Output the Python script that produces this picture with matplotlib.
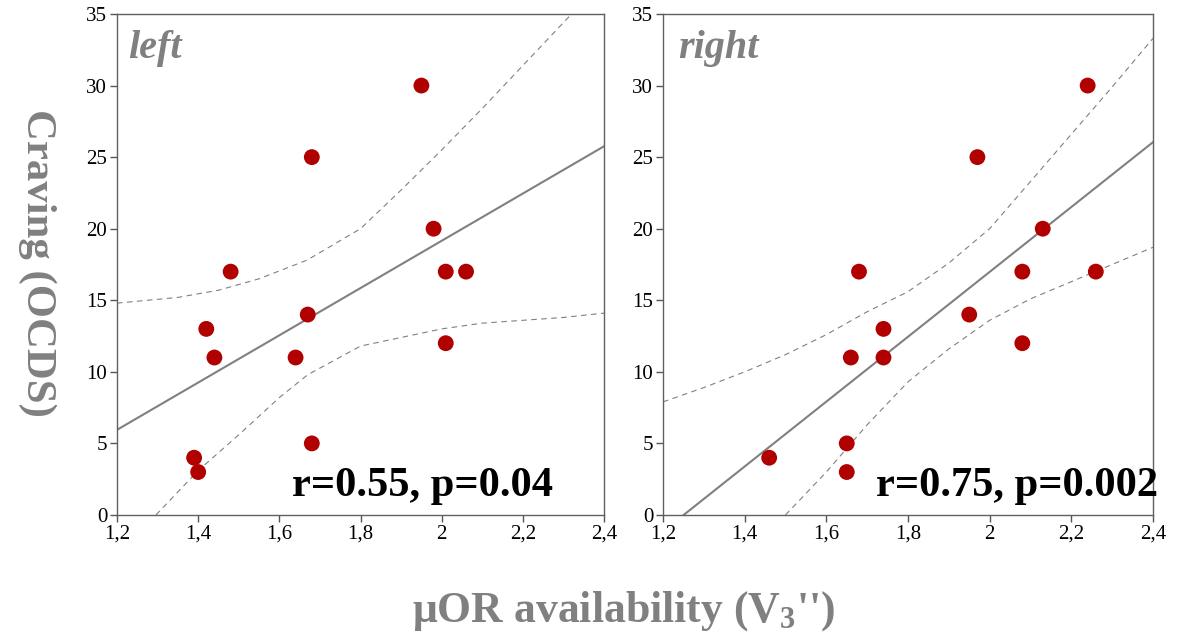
import numpy as np
import matplotlib
matplotlib.use("Agg")
import matplotlib.pyplot as plt
from matplotlib.ticker import FixedLocator, FuncFormatter

plt.rcParams['font.family'] = ['Liberation Serif', 'DejaVu Serif']
plt.rcParams['mathtext.fontset'] = 'custom'
plt.rcParams['mathtext.rm'] = 'Liberation Serif:bold'
plt.rcParams['mathtext.it'] = 'Liberation Serif:bold'
plt.rcParams['mathtext.bf'] = 'Liberation Serif:bold'

# data
left_x = [1.39, 1.40, 1.42, 1.44, 1.48, 1.64, 1.67, 1.68, 1.68, 1.95, 1.98, 2.01, 2.01, 2.06]
left_y = [4, 3, 13, 11, 17, 11, 14, 25, 5, 30, 20, 17, 12, 17]
right_x = [1.46, 1.65, 1.65, 1.66, 1.68, 1.74, 1.74, 1.95, 1.97, 2.08, 2.08, 2.13, 2.24, 2.26]
right_y = [4, 5, 3, 11, 17, 13, 11, 14, 25, 17, 12, 20, 30, 17]

# confidence bands (dashed)
left_up_x = [1.2, 1.35, 1.45, 1.55, 1.668, 1.8, 1.9, 2.0, 2.1, 2.2, 2.3, 2.35]
left_up_y = [14.8, 15.2, 15.7, 16.5, 17.8, 20.0, 22.7, 25.5, 28.4, 31.4, 34.4, 35.9]
left_lo_x = [1.296, 1.4, 1.5, 1.6, 1.67, 1.8, 1.9, 2.0, 2.1, 2.2, 2.3, 2.4]
left_lo_y = [0, 3.1, 5.6, 8.2, 9.8, 11.8, 12.4, 13.0, 13.4, 13.6, 13.8, 14.1]
right_up_x = [1.2, 1.3, 1.4, 1.5, 1.6, 1.7, 1.8, 1.9, 2.0, 2.1, 2.2, 2.3, 2.4]
right_up_y = [7.9, 8.9, 10.0, 11.2, 12.6, 14.2, 15.6, 17.6, 20.0, 23.3, 26.6, 29.9, 33.3]
right_lo_x = [1.5, 1.6, 1.7, 1.8, 1.9, 1.95, 2.0, 2.1, 2.2, 2.3, 2.4]
right_lo_y = [0, 3.0, 6.3, 9.3, 11.6, 12.6, 13.6, 15.1, 16.3, 17.5, 18.7]

xticks = [1.2, 1.4, 1.6, 1.8, 2.0, 2.2, 2.4]
yticks = [0, 5, 10, 15, 20, 25, 30, 35]

gray = '#808080'
red = '#b00000'

fig = plt.figure(figsize=(11.77, 6.36), dpi=100)
ax1 = fig.add_axes([0.0994, 0.1903, 0.4138, 0.7877])
ax2 = fig.add_axes([0.5633, 0.1903, 0.4163, 0.7877])


def fmt(v, pos):
    s = ('%.1f' % v).rstrip('0').rstrip('.')
    return s.replace('.', ',')


def panel(ax, x, y, ux, uy, lx, ly, name, name_x, stat, stat_x):
    k, b = np.polyfit(x, y, 1)
    xx = np.array([1.2, 2.4])
    ax.plot(xx, k * xx + b, color=gray, lw=1.5, zorder=2)
    ax.plot(ux, uy, color=gray, lw=0.8, ls=(0, (5, 4)), zorder=1)
    ax.plot(lx, ly, color=gray, lw=0.8, ls=(0, (5, 4)), zorder=1)
    ax.scatter(x, y, s=130, color=red, edgecolors='none', zorder=3)
    ax.set_xlim(1.2, 2.4)
    ax.set_ylim(0, 35)
    ax.xaxis.set_major_locator(FixedLocator(xticks))
    ax.yaxis.set_major_locator(FixedLocator(yticks))
    ax.xaxis.set_major_formatter(FuncFormatter(fmt))
    ax.tick_params(labelsize=15, length=5, width=1, color='#555555', pad=2)
    for sp in ax.spines.values():
        sp.set_color('#606060')
        sp.set_linewidth(1)
    ax.text(name_x, 0.913, name, transform=ax.transAxes, fontsize=29,
            fontstyle='italic', fontweight='bold', color=gray)
    ax.text(stat_x, 0.038, stat, transform=ax.transAxes, fontsize=30.6,
            fontweight='bold', ha='right', va='baseline', clip_on=False)


panel(ax1, left_x, left_y, left_up_x, left_up_y, left_lo_x, left_lo_y,
      'left', 0.022, 'r=0.55, p=0.04', 0.895)
panel(ax2, right_x, right_y, right_up_x, right_up_y, right_lo_x, right_lo_y,
      'right', 0.03, 'r=0.75, p=0.002', 1.01)

fig.text(0.032, 0.587, 'Craving (OCDS)', rotation=270, fontsize=30.8,
         fontweight='bold', color=gray, ha='center', va='center')
fig.text(0.53, 0.022, "μOR availability (V$_3$'')", fontsize=31.5,
         fontweight='bold', color=gray, ha='center', va='baseline')

fig.savefig('out.png', dpi=100)
